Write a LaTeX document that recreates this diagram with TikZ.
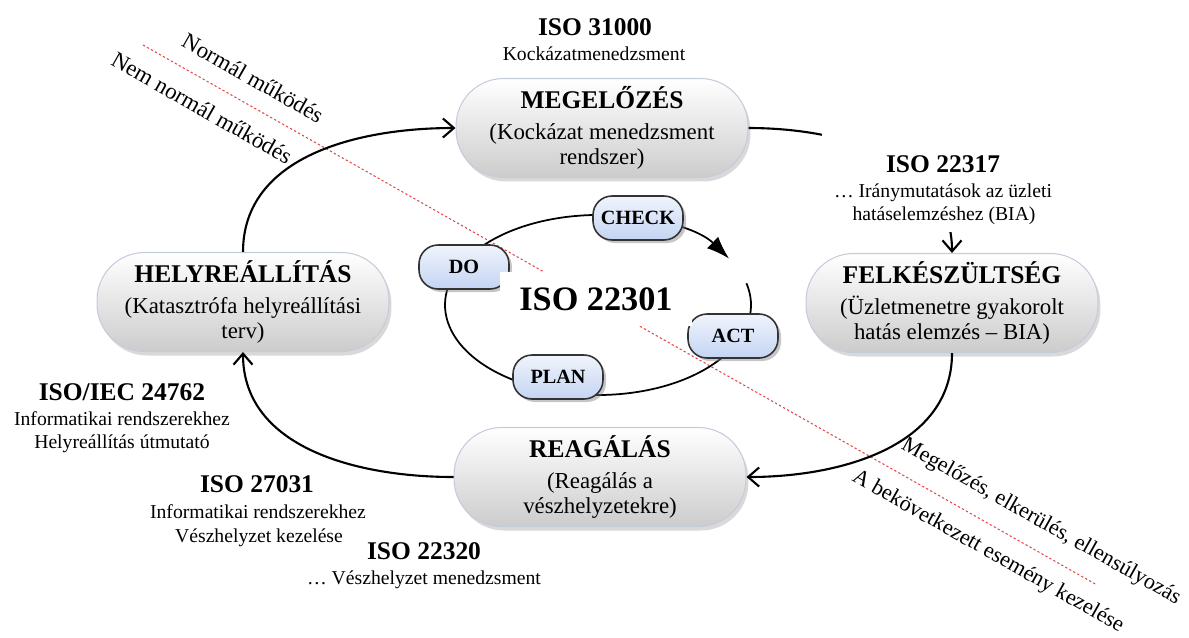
\documentclass[tikz,border=0pt]{standalone}
\usepackage{fontspec}
\setmainfont{Liberation Serif}
\usetikzlibrary{arrows.meta,shadows,calc}
\definecolor{tabblue}{RGB}{196,212,243}
\definecolor{dashred}{RGB}{226,72,72}
\definecolor{boxrim}{RGB}{196,204,220}
\begin{document}
\begin{tikzpicture}[x=0.02cm,y=0.02cm,
  mainbox/.style={rounded corners=0.95cm, minimum width=5.84cm, minimum height=1.98cm,
    draw=boxrim, line width=0.6pt, top color=white, middle color=white, bottom color=black!20,
    drop shadow={shadow xshift=0.5mm, shadow yshift=-0.8mm, opacity=0.3},
    align=center, inner sep=0pt, font=\fontsize{13}{14.5}\selectfont},
  tabbox/.style={rounded corners=0.38cm, minimum width=1.8cm, minimum height=0.88cm,
    draw=black!80, line width=0.9pt, top color=tabblue!25, bottom color=tabblue,
    drop shadow={shadow xshift=0.6mm, shadow yshift=-0.6mm, opacity=0.45},
    font=\fontsize{11.5}{13}\selectfont\bfseries, inner sep=0pt},
  cyc/.style={line width=1.2pt, -{Straight Barb[length=2.2mm,width=3.8mm]}},
  isotitle/.style={anchor=base, inner sep=0pt, font=\fontsize{14.5}{17}\selectfont\bfseries},
  isocap/.style={anchor=base, inner sep=0pt, font=\fontsize{11.2}{13}\selectfont},
  slanted/.style={rotate=-29.5, inner sep=0pt, font=\fontsize{13}{15}\selectfont},
  bgwhite/.style={fill=white, inner sep=0pt}
]
\useasboundingbox (0,0) rectangle (1189,-637);

% dividing line
\coordinate (d1) at (143,-45);
\coordinate (d2) at (1097,-585);
\draw[dashred, line width=0.6pt, dash pattern=on 1.3pt off 1.3pt] (d1) -- (d2);

\node[slanted] (t1) at (253,-78) {Normál működés};
\node[slanted] (t2) at (202,-108) {Nem normál működés};
\node[slanted, font=\fontsize{12.6}{15}\selectfont] (t3) at (1041,-522) {Megelőzés, elkerülés, ellensúlyozás};
\node[slanted, font=\fontsize{12.6}{15}\selectfont] (t4) at (988,-552) {A bekövetkezett esemény kezelése};

% PDCA ellipse with arrow
\coordinate (ec) at (598,-305);
\draw[line width=1pt, -{Latex[length=4.6mm,width=3.2mm]}]
  ($(ec)+(14:3.06cm and 1.8cm)$) arc[start angle=14, end angle=-329, x radius=3.06cm, y radius=1.8cm];

\node[tabbox] (do) at (464,-267) {DO};
\node[tabbox] (check) at (638,-218) {CHECK};
\node[tabbox] (act) at (733,-336) {ACT};
\node[tabbox] (plan) at (558,-377) {PLAN};

\node[bgwhite, minimum width=3.86cm, minimum height=1.08cm,
  font=\fontsize{19.5}{22}\selectfont\bfseries] (iso22301) at (596,-299) {ISO 22301};

% main boxes
\node[mainbox] (meg) at (602,-128) {{\fontsize{14.5}{17}\selectfont\bfseries MEGELŐZÉS}\\[3pt](Kockázat menedzsment\\rendszer)};
\node[mainbox] (hel) at (243,-302) {{\fontsize{14.5}{17}\selectfont\bfseries HELYREÁLLÍTÁS}\\[3pt](Katasztrófa helyreállítási\\terv)};
\node[mainbox] (fel) at (952,-303) {{\fontsize{14.5}{17}\selectfont\bfseries FELKÉSZÜLTSÉG}\\[3pt](Üzletmenetre gyakorolt\\hatás elemzés – BIA)};
\node[mainbox] (rea) at (600,-477) {{\fontsize{14.5}{17}\selectfont\bfseries REAGÁLÁS}\\[3pt](Reagálás a\\vészhelyzetekre)};

% cycle arrows
\draw[cyc] (hel.north) to[out=90,in=180] (meg.west);
\draw[cyc] (meg.east) to[out=0,in=90] (fel.north);
\draw[cyc] (fel.south) to[out=-90,in=0] (rea.east);
\draw[cyc] (rea.west) to[out=180,in=-90] (hel.south);

% ISO 22317 label on white background
\node[bgwhite, minimum width=4.86cm, minimum height=2.04cm] (bg22317) at (943,-181) {};
\node[isotitle] (iso22317) at (943,-172) {ISO 22317};
\node[isocap] (c22317a) at (943,-197) {\ldots\ Iránymutatások az üzleti};
\node[isocap] (c22317b) at (944,-220) {hatáselemzéshez (BIA)};

% ISO 31000
\node[isotitle] (iso31000) at (595,-35) {ISO 31000};
\node[isocap] (c31000) at (594,-60) {Kockázatmenedzsment};

% ISO/IEC 24762
\node[isotitle] (iso24762) at (122,-400) {ISO/IEC 24762};
\node[isocap] (c24762a) at (122,-425) {Informatikai rendszerekhez};
\node[isocap] (c24762b) at (122,-448) {Helyreállítás útmutató};

% ISO 27031
\node[isotitle] (iso27031) at (257,-492) {ISO 27031};
\node[isocap] (c27031a) at (258,-518) {Informatikai rendszerekhez};
\node[isocap] (c27031b) at (259,-542) {Vészhelyzet kezelése};

% ISO 22320
\node[isotitle] (iso22320) at (424,-559) {ISO 22320};
\node[isocap] (c22320) at (424,-584) {\ldots\ Vészhelyzet menedzsment};
\end{tikzpicture}
\end{document}
